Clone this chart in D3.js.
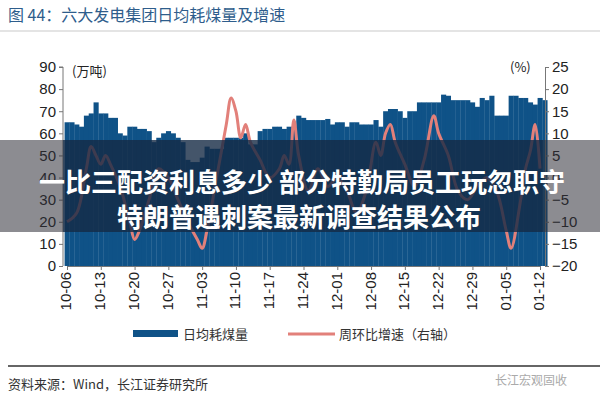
<!DOCTYPE html>
<html><head><meta charset="utf-8">
<script src="https://cdn.jsdelivr.net/npm/d3@7"></script>
<style>body{margin:0;background:#fff}svg{display:block;font-family:"Noto Sans CJK SC","Liberation Sans",sans-serif}</style>
</head><body><svg id="c" width="600" height="400"></svg>
<script>
const startDate = "2023-10-06";
const coal = [65,65,64,63,68,69,74,69,69,67,67,60,59,63,63,62,62,61,56,58,60,61,60,58,56,48,47,47,49,54,53,53,53,58,58,58,58,60,55,55,61,62,62,63,63,62,63,63,68,67,66,66,66,66,66.5,64,65,65,63,65,65,64,64,64,66,63,70,71,71,70,67,70,70,74,74,74,74,74,77.5,77,75,75,75,75,74,72,76,75,77,68,68,68,77,77,76,76,74,73,76,75];
const lineDays = [0,2,4,5,6,7,8,9,11,13,14,15,17,19,21,23,25,27,28,29,31,33,34,35,36,37,38,40,42,44,45,46,47,48,50,52,54,56,58,60,62,64,65,66,67,68,70,72,74,76,77,79,81,83,85,87,89,91,92,94,95,96,97,98];
const lineVals = [-10,-8,2,7,5,3,5,3,-2,-10,-14,-12,-5,2,0,-5,-10,-14,-16,-12,0,12,18,15,9,12,8,4,0,2,5,3,13,5,-3,2,-2,0,-3,-8,-3,8,5,10,12,8,3,-2,4,14,10,5,-3,-5,-2,0,-3,-12,-16,-5,2,6,12,2];
const xTicks = ["10-06","10-13","10-20","10-27","11-03","11-10","11-17","11-24","12-01","12-08","12-15","12-22","12-29","01-05","01-12"];
const leftTicks = [0,10,20,30,40,50,60,70,80,90];
const rightTicks = [-20,-15,-10,-5,0,5,10,15,20,25];

const svg = d3.select("#c");
const L=63,R=543,T=67,B=266;
const x = d3.scaleLinear().domain([0,98]).range([67,540]);
const bw = x(1)-x(0);
const yL = d3.scaleLinear().domain([0,90]).range([B,T]);
const yR = d3.scaleLinear().domain([-20,25]).range([B,T]);

svg.append("text").attr("x",8).attr("y",21).attr("font-size",16).attr("fill","#2e5d8c").text("图 44：六大发电集团日均耗煤量及增速");
svg.append("line").attr("x1",0).attr("x2",600).attr("y1",31).attr("y2",31).attr("stroke","#c9c9c9");

svg.append("g").selectAll("rect").data(coal).join("rect")
 .attr("x",(d,i)=>x(i)-bw/2).attr("width",bw+0.3).attr("y",d=>yL(d)).attr("height",d=>B-yL(d)).attr("fill","#0f5287");

const gl = svg.append("g").attr("transform",`translate(${L},0)`).call(d3.axisLeft(yL).tickValues(leftTicks).tickSize(4).tickSizeOuter(0));
const gr = svg.append("g").attr("transform",`translate(${R+2},0)`).call(d3.axisRight(yR).tickValues(rightTicks).tickSize(4).tickSizeOuter(0));
const gx = svg.append("g").attr("transform",`translate(0,${B})`).call(d3.axisBottom(x).tickValues(d3.range(0,99,7)).tickFormat((d,i)=>xTicks[i]).tickSize(4).tickSizeOuter(0));
[gl,gr,gx].forEach(g=>{g.selectAll("path,line").attr("stroke","#777");g.selectAll("text").attr("font-size",15).attr("fill","#222").attr("font-family","Liberation Sans, Arial");});
gl.select(".domain").attr("d",`M-4,${T}H0V${B}`);
gx.selectAll("text").attr("transform","rotate(-90)").attr("text-anchor","end").attr("y",0).attr("x",-6).style("dominant-baseline","middle").attr("dy","0");

const pts = lineDays.map((d,i)=>[x(d),yR(lineVals[i])]);
svg.append("path").attr("d",d3.line().curve(d3.curveCatmullRom)(pts)).attr("fill","none").attr("stroke","#e2807a").attr("stroke-width",3);

svg.append("text").attr("x",72).attr("y",76).attr("font-size",13).attr("fill","#222").text("(万吨)");
svg.append("text").attr("x",510).attr("y",72).attr("font-size",13).attr("fill","#222").text("(%)");

svg.append("rect").attr("x",133).attr("y",330).attr("width",45).attr("height",7).attr("fill","#0f5287");
svg.append("text").attr("x",183).attr("y",339).attr("font-size",13).attr("fill","#333").text("日均耗煤量");
svg.append("line").attr("x1",288).attr("x2",335).attr("y1",334).attr("y2",334).attr("stroke","#e2807a").attr("stroke-width",3);
svg.append("text").attr("x",339).attr("y",339).attr("font-size",13).attr("fill","#333").text("周环比增速（右轴）");

svg.append("line").attr("x1",8).attr("x2",600).attr("y1",366).attr("y2",366).attr("stroke","#666").attr("stroke-width",2);
svg.append("text").attr("x",8).attr("y",389).attr("font-size",13).attr("fill","#333").text("资料来源：Wind，长江证券研究所");
svg.append("text").attr("x",495).attr("y",385).attr("font-size",12).attr("fill","#aaa").text("长江宏观固收");

svg.append("rect").attr("x",0).attr("y",140).attr("width",600).attr("height",92).attr("fill","rgba(45,45,55,0.55)");
svg.append("rect").attr("x",L).attr("y",140).attr("width",R-L).attr("height",92).attr("fill","rgba(10,40,75,0.55)");
svg.append("text").attr("x",302).attr("y",192).attr("text-anchor","middle").attr("font-size",26).attr("font-weight","bold").attr("fill","#fff").text("一比三配资利息多少 部分特勤局员工玩忽职守");
svg.append("text").attr("x",299).attr("y",227).attr("text-anchor","middle").attr("font-size",26).attr("font-weight","bold").attr("fill","#fff").text("特朗普遇刺案最新调查结果公布");
</script></body></html>
